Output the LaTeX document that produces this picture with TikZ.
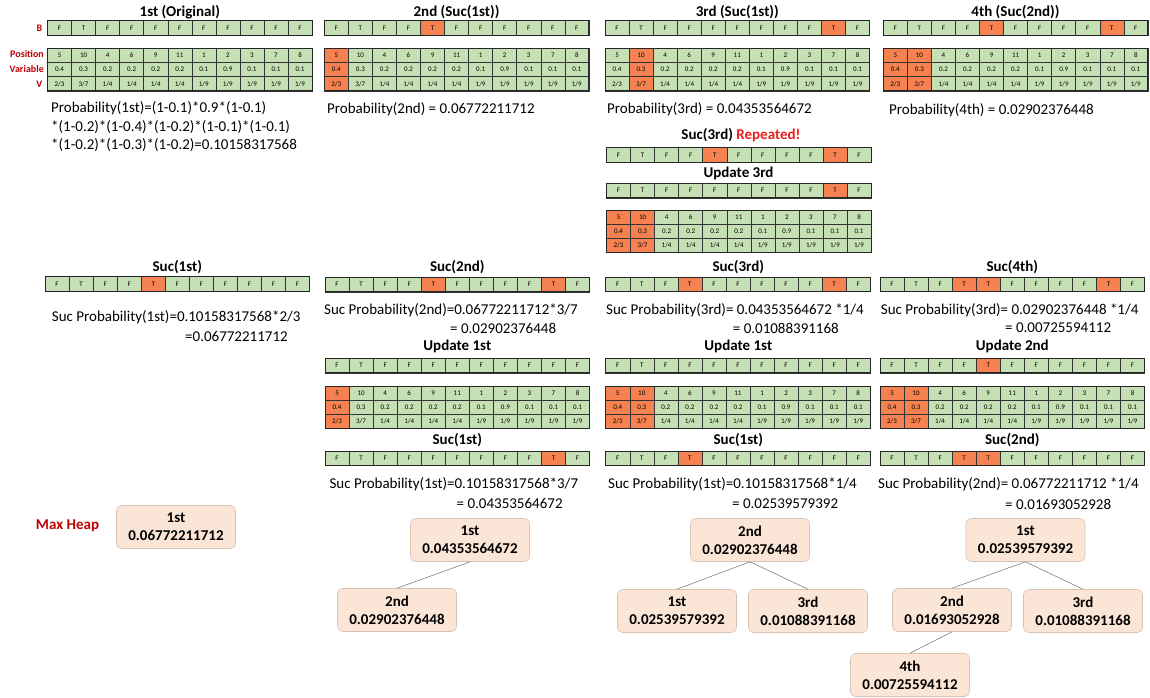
\documentclass[tikz,border=0pt]{standalone}
\usepackage{fontspec}
\setmainfont{Carlito}

\definecolor{cgreen}{RGB}{197,224,180}
\definecolor{corange}{RGB}{245,130,80}
\definecolor{darkred}{RGB}{192,0,0}
\definecolor{brightred}{RGB}{235,30,30}
\definecolor{heapfill}{RGB}{251,229,214}
\definecolor{heapline}{RGB}{215,195,180}

\tikzset{
  bcell/.style={draw=black!80, line width=0.5pt, minimum width=24.05pt,
    minimum height=14.6pt, inner sep=0pt, font=\fontsize{7}{8}\selectfont},
  vcell/.style={bcell, minimum height=14.2pt},
  tblframe/.style={draw=black!85, line width=1pt},
  ttl/.style={font=\fontsize{15}{18}\selectfont\bfseries, inner sep=0pt},
  lbl/.style={font=\fontsize{10}{12}\selectfont\bfseries, text=darkred,
    anchor=east, inner sep=0pt},
  prob/.style={font=\fontsize{15}{18.5}\selectfont, anchor=west, inner sep=0pt},
  heap/.style={rounded corners=5pt, fill=heapfill, draw=heapline, line width=0.6pt,
    minimum width=119pt, minimum height=43pt, align=center,
    font=\fontsize{15}{18.3}\selectfont\bfseries},
  link/.style={draw=black!50, line width=0.6pt}
}

% row B: name, left, top, orange columns
\newcommand{\brow}[4]{%
  \foreach \v [count=\i] in {F,T,F,F,F,F,F,F,F,F,F}{
    \gdef\cfill{cgreen}\xdef\cval{\v}
    \foreach \j in {#4}{\ifnum\i=0\j\relax\gdef\cfill{corange}\gdef\cval{T}\fi}
    \node[bcell,fill=\cfill] (#1-\i) at ({#2+(\i-0.5)*24.05},{#3+7.3}) {\cval};
  }
  \draw[tblframe] (#2,#3) rectangle ++(264.55,14.6);
}
% Position / Variable / V: name, left, top, orange columns
\newcommand{\vtable}[4]{%
  \foreach \ps/\vr/\nm/\dn [count=\i] in {5/0.4/2/3,10/0.3/3/7,4/0.2/1/4,6/0.2/1/4,
      9/0.2/1/4,11/0.2/1/4,1/0.1/1/9,2/0.9/1/9,3/0.1/1/9,7/0.1/1/9,8/0.1/1/9}{
    \gdef\cfill{cgreen}
    \foreach \j in {#4}{\ifnum\i=0\j\relax\gdef\cfill{corange}\fi}
    \node[vcell,fill=\cfill] (#1-p\i) at ({#2+(\i-0.5)*24.05},{#3+7.1}) {\ps};
    \node[vcell,fill=\cfill] (#1-v\i) at ({#2+(\i-0.5)*24.05},{#3+21.3}) {\vr};
    \node[vcell,fill=\cfill] (#1-r\i) at ({#2+(\i-0.5)*24.05},{#3+35.5}) {\nm/\dn};
  }
  \draw[tblframe] (#2,#3) rectangle ++(264.55,42.6);
}

\begin{document}
\begin{tikzpicture}[x=1pt,y=-1pt]
\useasboundingbox (0,0) rectangle (1150,697);
% 1st (Original)
\node[ttl] (t1) at (179.8,12.5) {1st (Original)};
\node[lbl] (lb) at (42.5,28) {B};
\node[lbl] (lpos) at (44,54.5) {Position};
\node[lbl] (lvar) at (44,69.3) {Variable};
\node[lbl] (lv) at (42.5,84) {V};
\brow{b1}{47.5}{20.7}{}
\vtable{v1}{47.5}{48.3}{}
\node[prob,align=left] (p1) at (51,127)
  {Probability(1st)=(1-0.1)*0.9*(1-0.1)\\{}*(1-0.2)*(1-0.4)*(1-0.2)*(1-0.1)*(1-0.1)\\{}*(1-0.2)*(1-0.3)*(1-0.2)=0.10158317568};
% 2nd (Suc(1st))
\node[ttl] (t2) at (456.5,12.5) {2nd (Suc(1st))};
\brow{b2}{324.3}{20.7}{5}
\vtable{v2}{324.3}{48.3}{1}
\node[prob] (p2) at (327,109) {Probability(2nd) = 0.06772211712};
% 3rd (Suc(1st))
\node[ttl] (t3) at (737.3,12.5) {3rd (Suc(1st))};
\brow{b3}{605}{20.7}{10}
\vtable{v3}{605}{48.3}{2}
\node[prob] (p3) at (607,109) {Probability(3rd) = 0.04353564672};
% 4th (Suc(2nd))
\node[ttl] (t4) at (1015.5,12.5) {4th (Suc(2nd))};
\brow{b4}{883.3}{20.7}{5,10}
\vtable{v4}{883.3}{48.3}{1,2}
\node[prob] (p4) at (889,110) {Probability(4th) = 0.02902376448};
% Suc(3rd) repeated
\node[ttl] (t5) at (741,135) {Suc(3rd) \textcolor{brightred}{Repeated!}};
\brow{b5}{606.5}{147.7}{5,10}
\node[ttl] (t6) at (738.5,173) {Update 3rd};
\brow{b6}{606.5}{183.3}{10}
\vtable{v6}{606.5}{210}{1,2}
% Suc(1st)
\node[ttl] (t7) at (177.3,266.7) {Suc(1st)};
\brow{b7}{45}{276.7}{5}
\node[prob] (s7) at (51.7,317.7) {Suc Probability(1st)=0.10158317568*2/3};
\node[prob] (s7b) at (185,336.7) {=0.06772211712};
% Suc(2nd), update 1st
\node[ttl] (t8) at (457.3,266.7) {Suc(2nd)};
\brow{b8}{325}{277.3}{5,10}
\node[prob] (s8) at (324,310) {Suc Probability(2nd)=0.06772211712*3/7};
\node[prob] (s8b) at (450,328.3) {= 0.02902376448};
\node[ttl] (t9) at (457.3,346) {Update 1st};
\brow{b9}{325}{358.3}{}
\vtable{v9}{325}{386}{1}
\node[ttl] (t10) at (457.3,440.5) {Suc(1st)};
\brow{b10}{325}{451}{10}
\node[prob] (s10) at (329.3,484.3) {Suc Probability(1st)=0.10158317568*3/7};
\node[prob] (s10b) at (456.5,503) {= 0.04353564672};
% Suc(3rd), update 1st
\node[ttl] (t11) at (738.3,266.7) {Suc(3rd)};
\brow{b11}{605.7}{277}{4,10}
\node[prob] (s11) at (606,310) {Suc Probability(3rd)= 0.04353564672 *1/4};
\node[prob] (s11b) at (732.7,328) {= 0.01088391168};
\node[ttl] (t12) at (738.3,346) {Update 1st};
\brow{b12}{605.7}{358.3}{}
\vtable{v12}{605.7}{386}{1,2}
\node[ttl] (t13) at (738.3,440.5) {Suc(1st)};
\brow{b13}{605.7}{451}{4}
\node[prob] (s13) at (608,484.3) {Suc Probability(1st)=0.10158317568*1/4};
\node[prob] (s13b) at (732,503.5) {= 0.02539579392};
% Suc(4th), update 2nd
\node[ttl] (t14) at (1012.3,266.7) {Suc(4th)};
\brow{b14}{880}{277}{4,5,10}
\node[prob] (s14) at (880.7,310) {Suc Probability(3rd)= 0.02902376448 *1/4};
\node[prob] (s14b) at (1005,328) {= 0.00725594112};
\node[ttl] (t15) at (1012.3,346) {Update 2nd};
\brow{b15}{880}{358.3}{5}
\vtable{v15}{880}{386}{1,2}
\node[ttl] (t16) at (1012.3,440.5) {Suc(2nd)};
\brow{b16}{880}{451}{4,5}
\node[prob] (s16) at (878,484.3) {Suc Probability(2nd)= 0.06772211712 *1/4};
\node[prob] (s16b) at (1005,504) {= 0.01693052928};
% max heaps
\node[lbl,anchor=center,font=\fontsize{15}{18}\selectfont\bfseries] (mh) at (67.5,526) {Max Heap};
\node[heap] (h1a) at (176,527) {1st\\0.06772211712};
\node[heap] (h2a) at (470,540) {1st\\0.04353564672};
\node[heap] (h2b) at (397,610) {2nd\\0.02902376448};
\draw[link] (h2a.south) -- (h2b.north);
\node[heap] (h3a) at (750,540) {2nd\\0.02902376448};
\node[heap] (h3b) at (677,611) {1st\\0.02539579392};
\node[heap] (h3c) at (808,611) {3rd\\0.01088391168};
\draw[link] (h3a.south) -- (h3b.north);
\draw[link] (h3a.south) -- (h3c.north);
\node[heap] (h4a) at (1025.5,540) {1st\\0.02539579392};
\node[heap] (h4b) at (952,610) {2nd\\0.01693052928};
\node[heap] (h4c) at (1083,611) {3rd\\0.01088391168};
\node[heap] (h4d) at (910,675) {4th\\0.00725594112};
\draw[link] (h4a.south) -- (h4b.north);
\draw[link] (h4a.south) -- (h4c.north);
\draw[link] (h4b.south) -- (h4d.north);
\end{tikzpicture}
\end{document}
